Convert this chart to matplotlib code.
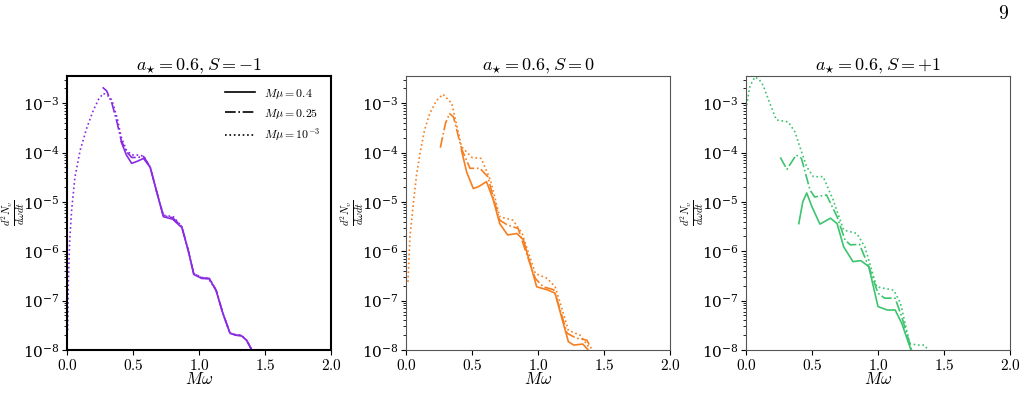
import matplotlib
matplotlib.use("Agg")
import matplotlib.pyplot as plt
import numpy as np

plt.rcParams['mathtext.fontset'] = 'cm'
plt.rcParams['font.family'] = 'serif'
plt.rcParams['font.serif'] = ['DejaVu Serif']

titles = [r'$a_{\star}=0.6, S=-1$', r'$a_{\star}=0.6, S=0$', r'$a_{\star}=0.6, S=+1$']
colors = ['#8a2be2', '#f57f20', '#3cc46e']

# log10 values, per panel: (x, log10 y) for Mmu=0.4 (solid), 0.25 (dashdot), 1e-3 (dotted)
p1_solid_x = [0.41, 0.45, 0.49, 0.53, 0.58, 0.63, 0.68, 0.73, 0.80, 0.87, 0.92, 0.96, 1.02, 1.08, 1.13, 1.18, 1.235, 1.28, 1.32, 1.36, 1.40]
p1_solid_y = [-3.78, -4.05, -4.22, -4.18, -4.12, -4.30, -4.80, -5.30, -5.35, -5.52, -6.0, -6.47, -6.55, -6.56, -6.80, -7.25, -7.66, -7.70, -7.71, -7.80, -8.0]
p1_dd_x = [0.27, 0.30, 0.34, 0.38, 0.41, 0.45, 0.49, 0.53, 0.58, 0.63, 0.68, 0.73, 0.80, 0.87, 0.92, 0.96, 1.02, 1.08, 1.13, 1.18, 1.235, 1.28, 1.32, 1.36, 1.40]
p1_dd_y = [-2.68, -2.75, -3.00, -3.40, -3.75, -3.98, -4.10, -4.10, -4.08, -4.29, -4.80, -5.28, -5.32, -5.50, -6.0, -6.45, -6.54, -6.55, -6.79, -7.25, -7.66, -7.70, -7.71, -7.80, -8.0]
p1_dot_x = [0.005, 0.01, 0.02, 0.035, 0.06, 0.10, 0.15, 0.20, 0.24, 0.275, 0.31, 0.34, 0.38, 0.41, 0.45, 0.49, 0.53, 0.58, 0.63, 0.68, 0.73, 0.805, 0.87, 0.92, 0.96, 1.02, 1.07, 1.13, 1.18, 1.235, 1.28, 1.32, 1.36, 1.40]
p1_dot_y = [-7.6, -6.65, -5.8, -5.17, -4.5, -3.95, -3.50, -3.14, -2.92, -2.80, -2.85, -2.94, -3.30, -3.68, -3.95, -4.05, -4.05, -4.07, -4.29, -4.80, -5.27, -5.30, -5.50, -6.0, -6.45, -6.53, -6.55, -6.79, -7.25, -7.66, -7.69, -7.70, -7.80, -8.0]

p2_solid_x = [0.42, 0.46, 0.51, 0.55, 0.61, 0.66, 0.71, 0.77, 0.84, 0.89, 0.94, 0.99, 1.07, 1.13, 1.18, 1.23, 1.27, 1.34, 1.38]
p2_solid_y = [-3.95, -4.40, -4.73, -4.69, -4.59, -4.95, -5.44, -5.67, -5.64, -5.77, -6.25, -6.72, -6.78, -6.85, -7.35, -7.83, -7.90, -7.88, -8.0]
p2_dd_x = [0.26, 0.30, 0.33, 0.36, 0.39, 0.42, 0.485, 0.56, 0.62, 0.66, 0.71, 0.77, 0.85, 0.90, 0.98, 1.04, 1.12, 1.17, 1.22, 1.29, 1.37, 1.41]
p2_dd_y = [-3.90, -3.40, -3.21, -3.28, -3.60, -3.92, -4.32, -4.32, -4.49, -4.90, -5.37, -5.47, -5.54, -5.95, -6.55, -6.72, -6.78, -7.20, -7.66, -7.76, -7.80, -8.0]
p2_dot_x = [0.015, 0.03, 0.056, 0.08, 0.106, 0.14, 0.18, 0.23, 0.28, 0.346, 0.38, 0.42, 0.50, 0.57, 0.64, 0.71, 0.81, 0.88, 0.93, 0.98, 1.07, 1.13, 1.18, 1.23, 1.32, 1.39]
p2_dot_y = [-6.62, -5.70, -5.03, -4.45, -4.02, -3.55, -3.21, -2.95, -2.82, -3.00, -3.40, -3.88, -4.10, -4.12, -4.56, -5.30, -5.37, -5.64, -6.05, -6.45, -6.55, -6.72, -7.15, -7.60, -7.70, -7.96]

p3_solid_x = [0.40, 0.43, 0.46, 0.50, 0.56, 0.64, 0.69, 0.74, 0.81, 0.87, 0.93, 1.00, 1.07, 1.13, 1.18, 1.25]
p3_solid_y = [-5.44, -5.00, -4.82, -5.10, -5.45, -5.33, -5.44, -5.91, -6.21, -6.19, -6.31, -7.12, -7.19, -7.19, -7.46, -8.0]
p3_dd_x = [0.26, 0.31, 0.38, 0.42, 0.485, 0.52, 0.61, 0.69, 0.75, 0.79, 0.86, 0.94, 1.00, 1.05, 1.13, 1.18, 1.255]
p3_dd_y = [-4.10, -4.34, -4.05, -4.12, -4.76, -4.90, -4.86, -5.30, -5.77, -5.87, -5.86, -6.38, -6.85, -6.95, -6.95, -7.33, -8.0]
p3_dot_x = [0.005, 0.03, 0.068, 0.10, 0.13, 0.18, 0.23, 0.32, 0.37, 0.42, 0.46, 0.51, 0.585, 0.66, 0.74, 0.84, 0.90, 0.99, 1.12, 1.17, 1.24, 1.29, 1.35, 1.38]
p3_dot_y = [-3.04, -2.65, -2.47, -2.52, -2.64, -3.00, -3.34, -3.38, -3.58, -3.98, -4.29, -4.49, -4.49, -4.96, -5.57, -5.64, -5.91, -6.72, -6.79, -7.05, -7.86, -7.90, -7.90, -8.0]

panels = [
    [(p1_solid_x, p1_solid_y), (p1_dd_x, p1_dd_y), (p1_dot_x, p1_dot_y)],
    [(p2_solid_x, p2_solid_y), (p2_dd_x, p2_dd_y), (p2_dot_x, p2_dot_y)],
    [(p3_solid_x, p3_solid_y), (p3_dd_x, p3_dd_y), (p3_dot_x, p3_dot_y)],
]
labels = [r'$M\mu=0.4$', r'$M\mu=0.25$', r'$M\mu=10^{-3}$']
styles = ['-', '-.', ':']
xticks = [0, 0.5, 1.0, 1.5, 2.0]
xticklabels = [r'$0.0$', r'$0.5$', r'$1.0$', r'$1.5$', r'$2.0$']

fig = plt.figure(figsize=(10.26, 4.19), dpi=100)
lefts = [67, 406, 746]
for i in range(3):
    ax = fig.add_axes([lefts[i] / 1026, 1 - 350 / 419, 264 / 1026, 274 / 419])
    for (xs, ys), ls, lab in zip(panels[i], styles, labels):
        ax.plot(xs, 10 ** np.array(ys), ls=ls, color=colors[i], lw=1.2, label=lab)
    ax.set_yscale('log')
    ax.set_xlim(0, 2.0)
    ax.set_ylim(1e-8, 10 ** -2.45)
    ax.set_xticks(xticks)
    ax.set_xticklabels(xticklabels)
    ax.tick_params(labelsize=11, pad=2)
    ax.tick_params(which='minor', length=2)
    ax.set_title(titles[i], fontsize=13, pad=3)
    ax.set_xlabel(r'$M\omega$', fontsize=12, labelpad=-1)
    ax.set_ylabel(r'$\frac{d^2N_\upsilon}{d\omega dt}$', fontsize=11)
    ax.yaxis.set_label_coords(-0.15, 0.5)
    if i == 0:
        for s in ax.spines.values():
            s.set_linewidth(1.5)
        h = [plt.Line2D([], [], color='k', ls=s, lw=1.2) for s in styles]
        ax.legend(h, labels, frameon=False, fontsize=8.5, loc='upper right', handlelength=2.5)
    else:
        for s in ax.spines.values():
            s.set_color('#555555')

fig.text(1003 / 1026, 1 - 14 / 419, r'$9$', fontsize=14, ha='center', va='center')
fig.savefig('out.png', dpi=100)
